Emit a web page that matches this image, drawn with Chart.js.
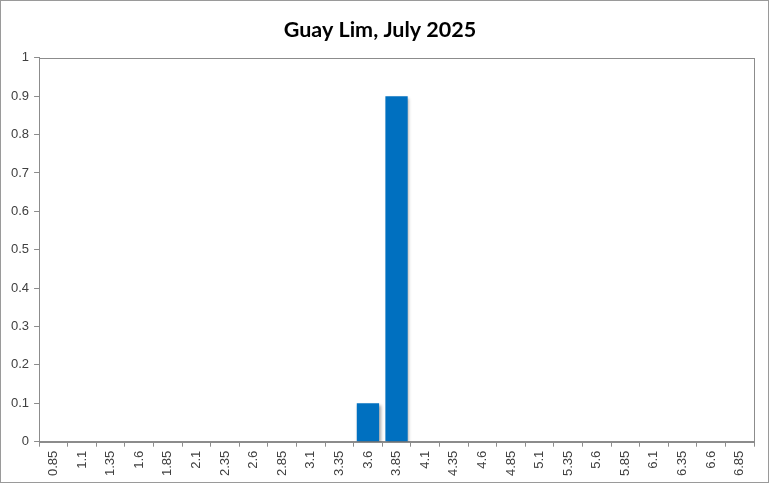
<!DOCTYPE html>
<html>
<head>
<meta charset="utf-8">
<script src="https://cdn.jsdelivr.net/npm/chart.js@4"></script>
<style>
    html, body { margin: 0; padding: 0; background: #ffffff; }
    #wrap { width: 769px; height: 483px; position: relative; }
</style>
</head>
<body>
<div id="wrap"><canvas id="chart"></canvas></div>
<script>
// Chart data
const chartTitle = 'Guay Lim, July 2025';
const categories = ['0.85', '1.1', '1.35', '1.6', '1.85', '2.1', '2.35', '2.6', '2.85', '3.1',
    '3.35', '3.6', '3.85', '4.1', '4.35', '4.6', '4.85', '5.1', '5.35', '5.6',
    '5.85', '6.1', '6.35', '6.6', '6.85'];
const values = [0, 0, 0, 0, 0, 0, 0, 0, 0, 0,
    0, 0.1, 0.9, 0, 0, 0, 0, 0, 0, 0,
    0, 0, 0, 0, 0];
const yMin = 0;
const yMax = 1;
const yStep = 0.1;

const axisGrey = '#8c8c8c';

// Draws white background, outer frame and plot border
const framePlugin = {
    id: 'frame',
    beforeDraw(chart) {
        const ctx = chart.ctx;
        ctx.save();
        ctx.fillStyle = '#ffffff';
        ctx.fillRect(0, 0, chart.width, chart.height);
        ctx.strokeStyle = '#9a9a9a';
        ctx.lineWidth = 1;
        ctx.strokeRect(0.5, 0.5, chart.width - 1, chart.height - 1);
        ctx.restore();
    },
    afterDraw(chart) {
        const a = chart.chartArea;
        const ctx = chart.ctx;
        ctx.save();
        ctx.strokeStyle = axisGrey;
        ctx.lineWidth = 1;
        ctx.strokeRect(Math.round(a.left) + 0.5, Math.round(a.top) + 0.5,
            Math.round(a.right - a.left), Math.round(a.bottom - a.top));
        ctx.restore();
    }
};

// Soft shadow behind the bars
const shadowPlugin = {
    id: 'barShadow',
    beforeDatasetsDraw(chart) {
        const ctx = chart.ctx;
        ctx.save();
        ctx.shadowColor = 'rgba(0, 0, 0, 0.35)';
        ctx.shadowBlur = 3;
        ctx.shadowOffsetX = 1.5;
        ctx.shadowOffsetY = 1.5;
    },
    afterDatasetsDraw(chart) {
        chart.ctx.restore();
    }
};

new Chart(document.getElementById('chart').getContext('2d'), {
    type: 'bar',
    data: {
        labels: categories,
        datasets: [{
            data: values,
            backgroundColor: '#0070c0',
            borderWidth: 0,
            categoryPercentage: 0.78,
            barPercentage: 1.0
        }]
    },
    options: {
        responsive: true,
        maintainAspectRatio: false,
        animation: false,
        devicePixelRatio: 1,
        layout: {
            padding: { left: 6, right: 15, top: 10, bottom: 3 }
        },
        plugins: {
            legend: { display: false },
            tooltip: { enabled: false },
            title: {
                display: true,
                text: chartTitle,
                color: '#000000',
                font: { family: 'Lato', size: 21.5, weight: 'bold' },
                padding: { top: 7, bottom: 15 }
            }
        },
        scales: {
            x: {
                offset: true,
                grid: {
                    display: true,
                    offset: true,
                    drawOnChartArea: false,
                    drawTicks: true,
                    tickLength: 5,
                    color: axisGrey
                },
                border: { display: true, color: axisGrey },
                ticks: {
                    autoSkip: false,
                    maxRotation: 90,
                    minRotation: 90,
                    padding: 4,
                    color: '#404040',
                    font: { family: 'Liberation Sans', size: 13 }
                }
            },
            y: {
                min: yMin,
                max: yMax,
                grid: {
                    display: true,
                    drawOnChartArea: false,
                    drawTicks: true,
                    tickLength: 5,
                    color: axisGrey
                },
                border: { display: true, color: axisGrey },
                ticks: {
                    stepSize: yStep,
                    padding: 5,
                    color: '#404040',
                    font: { family: 'Liberation Sans', size: 13 },
                    callback: function(value) {
                        return parseFloat(value.toFixed(1)).toString();
                    }
                }
            }
        }
    },
    plugins: [framePlugin, shadowPlugin]
});
</script>
</body>
</html>
